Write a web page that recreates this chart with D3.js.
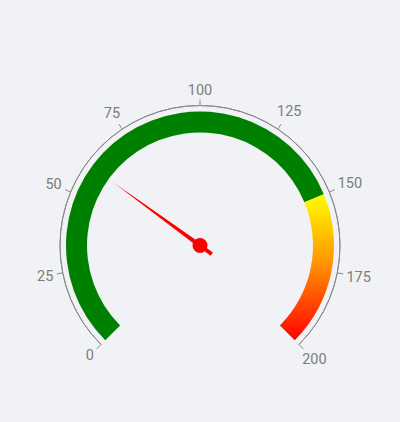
<!DOCTYPE html>
<html>
<head>
<meta charset="utf-8">
<script src="https://cdn.jsdelivr.net/npm/d3@7"></script>
<style>
  html, body { margin: 0; padding: 0; background: #f0f2f5; }
  svg { display: block; font-family: Roboto, "Noto Sans", sans-serif; }
</style>
</head>
<body>
<script>
// gauge data
const minValue = 0;
const maxValue = 200;
const needleValue = 60;
const tickValues = [0, 25, 50, 75, 100, 125, 150, 175, 200];
const bandStarts = [0, 150];
const bandEnds = [150, 200];
const bandColors = ["#008000", "url(#warn)"];

const width = 400;
const height = 422;
const cx = 200;
const cy = 245.5;

const svg = d3.select("body")
  .append("svg")
  .attr("width", width)
  .attr("height", height);

const defs = svg.append("defs");

// yellow -> red for the top band (coords relative to the gauge centre)
const warn = defs.append("linearGradient")
  .attr("id", "warn")
  .attr("gradientUnits", "userSpaceOnUse")
  .attr("x1", 0).attr("x2", 0)
  .attr("y1", -52).attr("y2", 96);
warn.append("stop").attr("offset", "0%").attr("stop-color", "#ffff00");
warn.append("stop").attr("offset", "45%").attr("stop-color", "#ff9900");
warn.append("stop").attr("offset", "100%").attr("stop-color", "#ff0000");

const angle = d3.scaleLinear()
  .domain([minValue, maxValue])
  .range([-135 * Math.PI / 180, 135 * Math.PI / 180]);

const g = svg.append("g").attr("transform", `translate(${cx},${cy})`);

// axis circle
const axisR = 140;
g.append("path")
  .attr("d", d3.arc()
    .innerRadius(axisR)
    .outerRadius(axisR)
    .startAngle(angle(minValue))
    .endAngle(angle(maxValue))())
  .attr("fill", "none")
  .attr("stroke", "#8a8a8a")
  .attr("stroke-width", 1);

// bands
const bandArc = d3.arc().innerRadius(113).outerRadius(134);
g.selectAll(".band")
  .data(bandStarts.map((s, i) => ({ s, e: bandEnds[i], c: bandColors[i] })))
  .join("path")
  .attr("class", "band")
  .attr("d", d => bandArc({ startAngle: angle(d.s), endAngle: angle(d.e) }))
  .attr("fill", d => d.c);

// ticks
const polar = (r, v) => [r * Math.sin(angle(v)), -r * Math.cos(angle(v))];
g.selectAll(".tick")
  .data(tickValues)
  .join("line")
  .attr("class", "tick")
  .attr("x1", d => polar(axisR, d)[0])
  .attr("y1", d => polar(axisR, d)[1])
  .attr("x2", d => polar(axisR + 6, d)[0])
  .attr("y2", d => polar(axisR + 6, d)[1])
  .attr("stroke", "#8a8a8a")
  .attr("stroke-width", 1);

// labels: inner edge of the text box sits on a fixed radius
const labelR = 148.5;
const fontSize = 14.5;
g.selectAll(".label")
  .data(tickValues)
  .join("text")
  .attr("class", "label")
  .attr("text-anchor", "middle")
  .attr("dominant-baseline", "central")
  .attr("fill", "#7d7d7d")
  .attr("font-size", fontSize)
  .text(d => d)
  .each(function (d) {
    const hw = this.getComputedTextLength() / 2;
    const hh = fontSize * 0.45;
    const a = angle(d);
    const ext = hw * Math.abs(Math.sin(a)) + hh * Math.abs(Math.cos(a));
    const p = polar(labelR + ext, d);
    d3.select(this).attr("x", p[0]).attr("y", p[1]);
  });

// needle
const needleLen = 110;
const needleGrad = defs.append("linearGradient")
  .attr("id", "needleFade")
  .attr("gradientUnits", "userSpaceOnUse")
  .attr("x1", 0).attr("y1", 0)
  .attr("x2", 0).attr("y2", -needleLen);
needleGrad.append("stop").attr("offset", "0%").attr("stop-color", "#ff0000");
needleGrad.append("stop").attr("offset", "80%").attr("stop-color", "#ff0000");
needleGrad.append("stop").attr("offset", "100%").attr("stop-color", "#ff0000").attr("stop-opacity", 0.35);

const needle = g.append("g")
  .attr("transform", `rotate(${angle(needleValue) * 180 / Math.PI})`);

needle.append("path")
  .attr("d", `M-2.3,0 L0,${-needleLen} L2.3,0 Z`)
  .attr("fill", "url(#needleFade)");

needle.append("rect")
  .attr("x", -2)
  .attr("y", 0)
  .attr("width", 4)
  .attr("height", 14.5)
  .attr("fill", "#ff0000");

g.append("circle")
  .attr("r", 7.5)
  .attr("fill", "#ff0000");
</script>
</body>
</html>
